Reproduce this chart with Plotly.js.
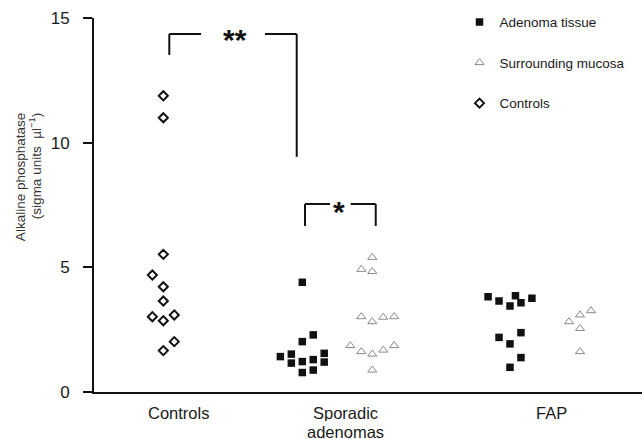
<!DOCTYPE html>
<html>
<head>
<meta charset="utf-8">
<script src="https://cdn.plot.ly/plotly-3.0.1.min.js"></script>
<style>html,body{margin:0;padding:0;background:#fff;}#chart{width:642px;height:439px;}</style>
</head>
<body>
<div id="chart"></div>
<script>
// ---- data ----
const categories = ["Controls", "Sporadic<br>adenomas", "FAP"];
const categoryPos = [1.54, 4.595, 8.34];

const controlsValues   = [11.88, 11.0, 5.52, 4.69, 4.22, 3.65, 3.02, 2.86, 3.09, 2.02, 1.66];
const controlsSlots    = [0, 0, 0, -1, 0, 0, -1, 0, 1, 1, 0];

const sporadicTissueValues = [4.40, 2.29, 2.02, 1.42, 1.52, 1.16, 1.22, 1.30, 1.55, 1.20, 0.78, 0.88];
const sporadicTissueSlots  = [0, 1, 0, -2, -1, -1, 0, 1, 2, 2, 0, 1];

const sporadicMucosaValues = [5.40, 4.92, 4.83, 3.02, 2.82, 3.00, 3.02, 1.86, 1.62, 1.52, 1.68, 1.86, 0.88];
const sporadicMucosaSlots  = [0, -1, 0, -1, 0, 1, 2, -2, -1, 0, 1, 2, 0];

const fapTissueValues = [3.82, 3.65, 3.45, 3.86, 3.58, 3.76, 2.19, 1.93, 2.38, 1.38, 0.99];
const fapTissueSlots  = [-2, -1, 0, 0.5, 1, 2, -1, 0, 1, 1, 0];

const fapMucosaValues = [2.82, 3.09, 3.26, 2.55, 1.62];
const fapMucosaSlots  = [-1, 0, 1, 0, 0];

const yTickVals = [0, 5, 10, 15];
const legendNames = ["Adenoma tissue", "Surrounding mucosa", "Controls"];

// ---- layout helpers ----
const slotW = 0.2;
const centers = {controls: 1.265, spTissue: 3.801, spMucosa: 5.078, fapTissue: 7.591, fapMucosa: 8.869};
const place = (c, slots) => slots.map(s => c + s * slotW);

const FONT = "Liberation Sans, Arial, Helvetica, sans-serif";
const INK = "#1a1a1a";

const traces = [
  {
    type: "scatter", mode: "markers", name: legendNames[0], legendgroup: "a",
    x: place(centers.spTissue, sporadicTissueSlots).concat(place(centers.fapTissue, fapTissueSlots)),
    y: sporadicTissueValues.concat(fapTissueValues),
    marker: {symbol: "square", size: 7.5, color: "#111", line: {width: 0}},
    cliponaxis: false
  },
  {
    type: "scatter", mode: "markers", name: legendNames[1], legendgroup: "b",
    x: place(centers.spMucosa, sporadicMucosaSlots).concat(place(centers.fapMucosa, fapMucosaSlots)),
    y: sporadicMucosaValues.concat(fapMucosaValues),
    marker: {symbol: "triangle-up-open", size: 8, color: "#888", line: {width: 1, color: "#888"}},
    cliponaxis: false
  },
  {
    type: "scatter", mode: "markers", name: legendNames[2], legendgroup: "c",
    x: place(centers.controls, controlsSlots),
    y: controlsValues,
    marker: {symbol: "diamond-open", size: 7, color: "#111", line: {width: 2, color: "#111"}},
    cliponaxis: false
  }
];

const lineStyle = {color: "#111", width: 2};
const seg = (x0, y0, x1, y1) => ({type: "line", xref: "x", yref: "y", x0, y0, x1, y1, line: lineStyle});
const shapes = [
  // ** bracket
  seg(1.374, 13.52, 1.374, 14.36), seg(1.374, 14.36, 1.953, 14.36),
  seg(3.120, 14.36, 3.699, 14.36), seg(3.699, 14.36, 3.699, 9.43),
  // * bracket
  seg(3.850, 6.66, 3.850, 7.54), seg(3.850, 7.54, 4.307, 7.54),
  seg(4.684, 7.54, 5.141, 7.54), seg(5.141, 7.54, 5.141, 6.66)
];

const annotations = [
  {xref: "x", yref: "y", x: 2.573, y: 14.14, text: "<b>**</b>", showarrow: false,
   font: {family: FONT, size: 30, color: "#111"}, xanchor: "center", yanchor: "middle"},
  {xref: "x", yref: "y", x: 4.471, y: 7.24, text: "<b>*</b>", showarrow: false,
   font: {family: FONT, size: 30, color: "#111"}, xanchor: "center", yanchor: "middle"},
  // y-axis title (two lines, end-aligned)
  {xref: "paper", yref: "paper", x: 0, xshift: -74, y: 0.751, yanchor: "top", xanchor: "center",
   text: "Alkaline phosphatase", textangle: -90, showarrow: false,
   font: {family: FONT, size: 13.5, color: "#333"}},
  {xref: "paper", yref: "paper", x: 0, xshift: -59, y: 0.751, yanchor: "top", xanchor: "center",
   text: "(sigma units  µl<sup>−1</sup>)", textangle: -90, showarrow: false,
   font: {family: FONT, size: 13.5, color: "#333"}}
];
// category labels, one annotation per line for tight line spacing
categories.forEach((c, i) => {
  c.split("<br>").forEach((line, j) => {
    annotations.push({xref: "x", yref: "paper", x: categoryPos[i], y: 0, yanchor: "middle", xanchor: "center",
      yshift: -20.5 - j * 18.5, height: 17, text: line, showarrow: false,
      font: {family: FONT, size: 16.5, color: INK}});
  });
});

const layout = {
  width: 642, height: 439,
  margin: {l: 94, r: 0, t: 18, b: 47, pad: 0},
  paper_bgcolor: "#fff", plot_bgcolor: "#fff",
  font: {family: FONT, color: INK},
  showlegend: true,
  legend: {x: 0.667, y: 1.03, xanchor: "left", yanchor: "top", bgcolor: "rgba(0,0,0,0)",
    font: {family: FONT, size: 13.5, color: INK}, tracegroupgap: 20, itemsizing: "trace"},
  xaxis: {range: [0, 10], showgrid: false, zeroline: false, showline: true, linecolor: "#111", linewidth: 2,
    ticks: "", showticklabels: false, fixedrange: true},
  yaxis: {range: [0, 15], showgrid: false, zeroline: false, showline: true, linecolor: "#111", linewidth: 2,
    ticks: "outside", ticklen: 9, tickwidth: 2, tickcolor: "#111",
    tickvals: yTickVals, ticktext: yTickVals.map(String), ticklabelstandoff: 10,
    tickfont: {family: FONT, size: 17, color: INK}, fixedrange: true},
  shapes, annotations
};

Plotly.newPlot("chart", traces, layout, {displayModeBar: false, staticPlot: true});
</script>
</body>
</html>
